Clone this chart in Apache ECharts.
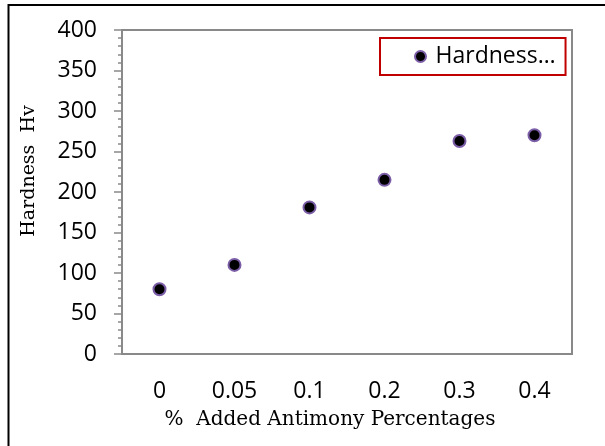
<!DOCTYPE html>
<html>
<head>
<meta charset="utf-8">
<script src="https://cdn.jsdelivr.net/npm/echarts@6/dist/echarts.min.js"></script>
<style>
  html, body { margin: 0; padding: 0; background: #fff; }
  #chart { width: 605px; height: 446px; }
</style>
</head>
<body>
<div id="chart"></div>
<script>
// 数据：添加锑百分比 → 维氏硬度
const categories = ['0', '0.05', '0.1', '0.2', '0.3', '0.4'];
const hardness = [80, 110, 181, 215, 263, 270];
const seriesName = 'Hardness…';
const xName = '%  Added Antimony Percentages';
const yName = 'Hardness  Hv';

const AXIS = '#898989';
const chart = echarts.init(document.getElementById('chart'));
chart.setOption({
  backgroundColor: '#fff',
  animation: false,
  grid: { left: 122, right: 33, top: 30, bottom: 92, show: true, borderColor: AXIS, borderWidth: 2 },
  legend: {
    data: [seriesName], left: 380, top: 38, padding: [7, 10, 7, 34],
    borderColor: '#c00000', borderWidth: 2, backgroundColor: '#fff',
    itemWidth: 20, itemHeight: 11, itemGap: 6,
    textStyle: { fontFamily: 'Open Sans', fontSize: 23, color: '#000' }
  },
  xAxis: [
    { type: 'category', data: categories, boundaryGap: true,
      axisLine: { lineStyle: { color: AXIS, width: 2 } },
      axisTick: { inside: true, length: 8, lineStyle: { color: AXIS, width: 1.5 } },
      axisLabel: { margin: 26, fontFamily: 'Open Sans', fontSize: 23, color: '#000' },
      splitLine: { show: false } },
    // 类目中心的短刻度
    { type: 'category', data: categories, boundaryGap: true, position: 'bottom',
      axisLine: { show: false },
      axisTick: { inside: true, length: 5, alignWithLabel: true, lineStyle: { color: AXIS, width: 1.5 } },
      axisLabel: { show: false }, splitLine: { show: false } }
  ],
  yAxis: {
    type: 'value', min: 0, max: 400, interval: 50,
    axisLine: { show: true, lineStyle: { color: AXIS, width: 2 } },
    axisTick: { show: true, length: 8, lineStyle: { color: AXIS, width: 1.5 } },
    minorTick: { show: true, splitNumber: 5, length: 4, lineStyle: { color: AXIS, width: 1.5 } },
    axisLabel: { margin: 25, fontFamily: 'Open Sans', fontSize: 23, color: '#000' },
    splitLine: { show: false }
  },
  series: [{
    name: seriesName, type: 'scatter', data: hardness, symbolSize: 12,
    itemStyle: { color: '#000', borderColor: '#7b5ea7', borderWidth: 2, opacity: 1 }
  }],
  graphic: [
    { type: 'rect', shape: { x: 8.5, y: 5, width: 700, height: 600 },
      style: { fill: 'none', stroke: '#000', lineWidth: 2 }, silent: true, z: -1 },
    { type: 'text', x: 330, y: 420,
      style: { text: xName, font: '20px "DejaVu Serif"', fill: '#000', textAlign: 'center', textVerticalAlign: 'middle' } },
    { type: 'text', x: 29, y: 171, rotation: Math.PI / 2,
      style: { text: yName, font: '19px "DejaVu Serif"', fill: '#000', textAlign: 'center', textVerticalAlign: 'middle' } }
  ]
});
</script>
</body>
</html>
